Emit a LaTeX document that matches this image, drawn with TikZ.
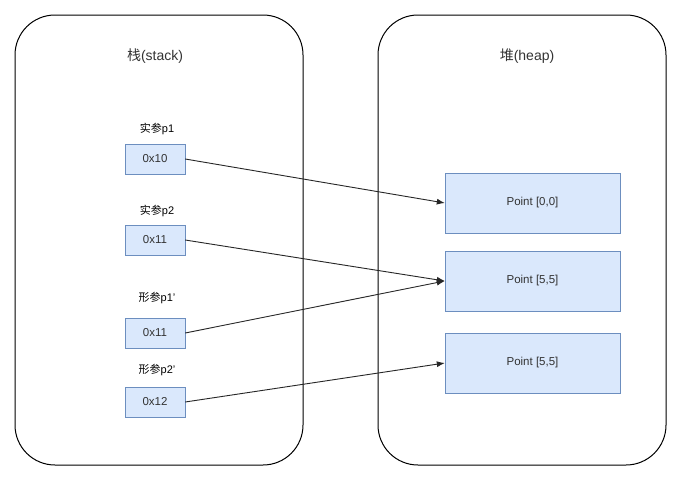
\documentclass[tikz,border=0pt]{standalone}
\usepackage{fontspec}
\usetikzlibrary{arrows.meta}
\setmainfont{Liberation Sans}
\newfontfamily\cjk{Noto Sans CJK SC}
\definecolor{boxfill}{HTML}{DAE8FC}
\definecolor{boxline}{HTML}{6C8EBF}
\definecolor{txt}{HTML}{333333}
\begin{document}
\begin{tikzpicture}[x=1pt,y=-1pt,
  container/.style={draw=black,line width=1pt,fill=white,rounded corners=40pt,minimum width=288pt,minimum height=450pt,inner sep=0pt},
  small/.style={draw=boxline,fill=boxfill,minimum width=60pt,minimum height=30pt,inner sep=0pt,font=\fontsize{11.5}{13}\selectfont,text=txt},
  big/.style={draw=boxline,fill=boxfill,minimum width=175pt,minimum height=60pt,inner sep=0pt,font=\fontsize{11.5}{13}\selectfont,text=txt},
  lbl/.style={font=\fontsize{11}{13}\selectfont,text=black,inner sep=0pt},
  title/.style={font=\fontsize{14}{16}\selectfont,text=txt,inner sep=0pt},
  conn/.style={draw=black!85,line width=0.9pt,-{Latex[length=8pt,width=6pt]}}]
\useasboundingbox (0,0) rectangle (679,480);
\fill[white] (0,0) rectangle (679,480);
\node[container] (stack) at (159,240) {};
\node[container] (heap) at (522,240) {};
\node[title] (ts) at (155,56) {{\cjk 栈}(stack)};
\node[title] (th) at (527,56) {{\cjk 堆}(heap)};
\node[lbl] (l1) at (157,129) {{\cjk 实参}p1};
\node[small] (a1) at (155,159) {0x10};
\node[lbl] (l2) at (157,211) {{\cjk 实参}p2};
\node[small] (a2) at (155,240) {0x11};
\node[lbl] (l3) at (157,298) {{\cjk 形参}p1'};
\node[small] (a3) at (155,333) {0x11};
\node[lbl] (l4) at (157,370) {{\cjk 形参}p2'};
\node[small] (a4) at (155,402) {0x12};
\node[big] (p1) at (532.5,203) {Point [0,0]};
\node[big] (p2) at (532.5,281) {Point [5,5]};
\node[big] (p3) at (532.5,363) {Point [5,5]};
\draw[conn] (a1.east) -- (p1.west);
\draw[conn] (a2.east) -- (p2.west);
\draw[conn] (a3.east) -- (p2.west);
\draw[conn] (a4.east) -- (p3.west);
\end{tikzpicture}
\end{document}
